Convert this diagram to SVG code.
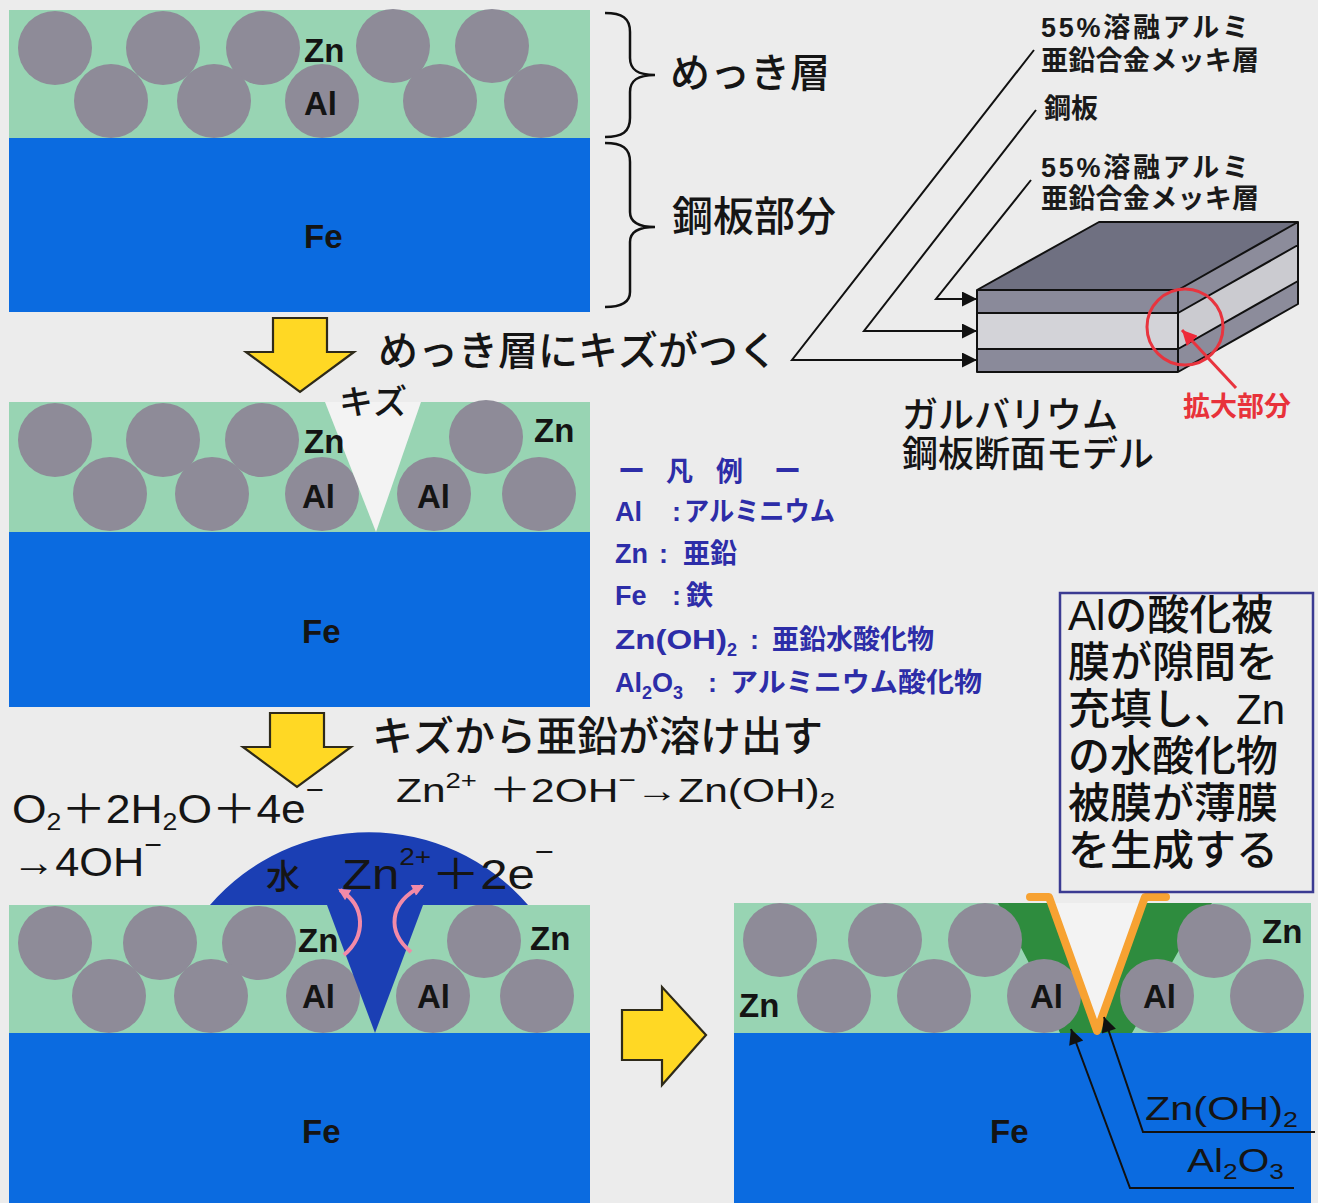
<svg xmlns="http://www.w3.org/2000/svg" width="1318" height="1203" viewBox="0 0 1318 1203">
<defs>
<style>
.coat{fill:#98d4b3}
.steel{fill:#0b6be0}
.grain{fill:#8e8b98}
.gap{fill:#f3f3f3}
.el{font-family:"Liberation Sans",Arial,sans-serif;font-weight:bold;font-size:33px;fill:#141414}
.jp{font-family:"Liberation Sans","Noto Sans CJK JP",sans-serif;fill:#151515;font-weight:500}
.eq{font-family:"Liberation Sans","Noto Sans CJK JP",sans-serif;fill:#151515}
.legend{font-family:"Liberation Sans","Noto Sans CJK JP",sans-serif;font-size:27px;font-weight:bold;fill:#2d2da8}
.note{font-family:"Liberation Sans","Noto Sans CJK JP",sans-serif;font-size:42px;font-weight:500;fill:#111}
.tag{font-family:"Liberation Sans","Noto Sans CJK JP",sans-serif;font-size:27px;font-weight:bold;fill:#1a1a1a}
.lead{fill:none;stroke:#111;stroke-width:2}
.yel{fill:#ffd824;stroke:#2e2a1a;stroke-width:2.2}
.brace{fill:none;stroke:#111;stroke-width:2.5}
.edge{fill:none;stroke:#111;stroke-width:2;stroke-linejoin:round}
.swirl{fill:none;stroke:#f28aa8;stroke-width:4}
</style>
<marker id="tri" viewBox="0 0 10 10" refX="10" refY="5" markerWidth="18" markerHeight="15" markerUnits="userSpaceOnUse" orient="auto">
<path d="M0,0 L10,5 L0,10 Z" fill="#111"/>
</marker>
<marker id="triRed" viewBox="0 0 10 10" refX="10" refY="5" markerWidth="18" markerHeight="15" markerUnits="userSpaceOnUse" orient="auto">
<path d="M0,0 L10,5 L0,10 Z" fill="#ee2a3a"/>
</marker>
<marker id="triPink" viewBox="0 0 10 10" refX="8" refY="5" markerWidth="13" markerHeight="12" markerUnits="userSpaceOnUse" orient="auto">
<path d="M0,0 L10,5 L0,10 Z" fill="#f28aa8"/>
</marker>
<polygon id="down" points="-27,0 27,0 27,34 54,34 0,74 -54,34 -27,34"/>
</defs>

<rect width="1318" height="1203" fill="#ececec"/>

<!-- intact coating -->
<g id="panel-intact">
<rect class="coat" x="9" y="10" width="581" height="128"/>
<rect class="steel" x="9" y="138" width="581" height="174"/>
<circle class="grain" cx="55" cy="48" r="37"/>
<circle class="grain" cx="163" cy="48" r="37"/>
<circle class="grain" cx="263" cy="48" r="37"/>
<circle class="grain" cx="393" cy="46" r="37"/>
<circle class="grain" cx="492" cy="46" r="37"/>
<circle class="grain" cx="111" cy="101" r="37"/>
<circle class="grain" cx="214" cy="101" r="37"/>
<circle class="grain" cx="322" cy="101" r="37"/>
<circle class="grain" cx="440" cy="101" r="37"/>
<circle class="grain" cx="541" cy="101" r="37"/>
<text class="el" x="304" y="62">Zn</text>
<text class="el" x="304" y="115">Al</text>
<text class="el" x="304" y="248">Fe</text>
</g>

<!-- braces and layer names -->
<g id="layer-names">
<path class="brace" d="M605,13 C622,13 630,18 630,32 L630,58 C630,70 638,75 655,75 C638,75 630,80 630,92 L630,118 C630,132 622,137 605,137"/>
<path class="brace" d="M605,143 C622,143 630,148 630,162 L630,212 C630,222 638,227 655,227 C638,227 630,232 630,242 L630,292 C630,302 622,307 605,307"/>
<text class="jp" x="670" y="87" font-size="40">めっき層</text>
<text class="jp" x="672" y="231" font-size="41">鋼板部分</text>
</g>

<!-- step arrows -->
<g id="step-arrows">
<use href="#down" class="yel" transform="translate(300,318)"/>
<use href="#down" class="yel" transform="translate(297,713)"/>
<polygon class="yel" points="622,1010 662,1010 662,987 706,1035 662,1085 662,1060 622,1060"/>
<text class="jp" x="378" y="365" font-size="40">めっき層にキズがつく</text>
<text class="jp" x="372" y="751" font-size="41">キズから亜鉛が溶け出す</text>
</g>

<!-- scratched coating -->
<g id="panel-scratched">
<rect class="coat" x="9" y="402" width="581" height="130"/>
<rect class="steel" x="9" y="532" width="581" height="175"/>
<circle class="grain" cx="55" cy="440" r="37"/>
<circle class="grain" cx="163" cy="440" r="37"/>
<circle class="grain" cx="262" cy="440" r="37"/>
<circle class="grain" cx="486" cy="437" r="37"/>
<circle class="grain" cx="110" cy="494" r="37"/>
<circle class="grain" cx="212" cy="494" r="37"/>
<circle class="grain" cx="322" cy="494" r="37"/>
<circle class="grain" cx="434" cy="494" r="37"/>
<circle class="grain" cx="539" cy="494" r="37"/>
<polygon class="gap" points="325,402 421,402 376,532"/>
<text class="jp" x="373" y="414" font-size="34" text-anchor="middle">キズ</text>
<text class="el" x="304" y="453">Zn</text>
<text class="el" x="302" y="508">Al</text>
<text class="el" x="417" y="508">Al</text>
<text class="el" x="534" y="442">Zn</text>
<text class="el" x="302" y="643">Fe</text>
</g>

<!-- zinc dissolving into water -->
<g id="panel-dissolving">
<rect class="coat" x="9" y="905" width="581" height="128"/>
<rect class="steel" x="9" y="1033" width="581" height="170"/>
<circle class="grain" cx="55" cy="943" r="37"/>
<circle class="grain" cx="160" cy="943" r="37"/>
<circle class="grain" cx="259" cy="943" r="37"/>
<circle class="grain" cx="484" cy="941" r="37"/>
<circle class="grain" cx="109" cy="996" r="37"/>
<circle class="grain" cx="211" cy="996" r="37"/>
<circle class="grain" cx="323" cy="996" r="37"/>
<circle class="grain" cx="433" cy="996" r="37"/>
<circle class="grain" cx="537" cy="996" r="37"/>
<path d="M210,905 A210,210 0 0 1 528,905 L423,905 L375,1033 L327,905 Z" fill="#1b3fb4"/>
<text class="jp" x="266" y="889" font-size="34" fill="#111">水</text>
<text class="eq" x="342" y="889" font-size="42" textLength="212" lengthAdjust="spacingAndGlyphs">Zn<tspan dy="-24" font-size="24">2+</tspan><tspan dy="24">＋2e</tspan><tspan dy="-28" font-size="28">−</tspan></text>
<text class="el" x="298" y="952">Zn</text>
<text class="el" x="530" y="950">Zn</text>
<text class="el" x="302" y="1008">Al</text>
<text class="el" x="417" y="1008">Al</text>
<text class="el" x="302" y="1143">Fe</text>
</g>

<!-- reactions -->
<g id="reactions">
<text class="eq" x="12" y="823" font-size="40" textLength="312" lengthAdjust="spacingAndGlyphs">O<tspan dy="7" font-size="24">2</tspan><tspan dy="-7">＋2H</tspan><tspan dy="7" font-size="24">2</tspan><tspan dy="-7">O＋4e</tspan><tspan dy="-24" font-size="28">−</tspan></text>
<text class="eq" x="12" y="876" font-size="40" textLength="150" lengthAdjust="spacingAndGlyphs">→4OH<tspan dy="-22" font-size="28">−</tspan></text>
<text class="eq" x="396" y="802" font-size="34" textLength="439" lengthAdjust="spacingAndGlyphs">Zn<tspan dy="-14" font-size="22">2+</tspan><tspan dy="14"> ＋2OH</tspan><tspan dy="-14" font-size="24">−</tspan><tspan dy="14">→Zn(OH)</tspan><tspan dy="6" font-size="22">2</tspan></text>
</g>

<!-- sealed scratch -->
<g id="panel-sealed">
<rect class="coat" x="734" y="903" width="577" height="130"/>
<rect class="steel" x="734" y="1033" width="577" height="170"/>
<polygon points="998,903 1049,903 1097,1033 1060,1033 1030,965" fill="#2e8c3e"/>
<polygon points="1145,903 1212,903 1182,945 1132,1033 1097,1033" fill="#2e8c3e"/>
<circle class="grain" cx="780" cy="940" r="37"/>
<circle class="grain" cx="885" cy="940" r="37"/>
<circle class="grain" cx="985" cy="940" r="37"/>
<circle class="grain" cx="1214" cy="941" r="37"/>
<circle class="grain" cx="834" cy="996" r="37"/>
<circle class="grain" cx="934" cy="996" r="37"/>
<circle class="grain" cx="1044" cy="996" r="37"/>
<circle class="grain" cx="1157" cy="996" r="37"/>
<circle class="grain" cx="1267" cy="996" r="37"/>
<polygon class="gap" points="1049,903 1145,903 1097,1030"/>
<path d="M1030,897 L1049,897 L1097,1031 L1145,897 L1166,897" fill="none" stroke="#f7a232" stroke-width="8" stroke-linecap="round" stroke-linejoin="round"/>
<text class="el" x="739" y="1017">Zn</text>
<text class="el" x="1262" y="943">Zn</text>
<text class="el" x="1030" y="1008">Al</text>
<text class="el" x="1143" y="1008">Al</text>
<text class="el" x="990" y="1143">Fe</text>
<text class="eq" x="1145" y="1120" font-size="34" textLength="153" lengthAdjust="spacingAndGlyphs">Zn(OH)<tspan dy="7" font-size="22">2</tspan></text>
<text class="eq" x="1187" y="1172" font-size="34" textLength="97" lengthAdjust="spacingAndGlyphs">Al<tspan dy="7" font-size="22">2</tspan><tspan dy="-7">O</tspan><tspan dy="7" font-size="22">3</tspan></text>
</g>

<!-- note box -->
<g id="note">
<rect x="1060" y="593" width="253" height="299" fill="none" stroke="#3b3b92" stroke-width="2.5"/>
<text class="note" x="1068" y="630">Alの酸化被</text>
<text class="note" x="1068" y="677">膜が隙間を</text>
<text class="note" x="1068" y="724">充填し、Zn</text>
<text class="note" x="1068" y="771">の水酸化物</text>
<text class="note" x="1068" y="818">被膜が薄膜</text>
<text class="note" x="1068" y="865">を生成する</text>
</g>

<!-- legend -->
<g id="legend">
<text class="legend" y="481"><tspan x="618">ー</tspan><tspan x="666">凡</tspan><tspan x="716">例</tspan><tspan x="774">ー</tspan></text>
<text class="legend" y="521"><tspan x="615">Al</tspan><tspan x="672">:</tspan><tspan x="684" textLength="151" lengthAdjust="spacingAndGlyphs">アルミニウム</tspan></text>
<text class="legend" y="563"><tspan x="615">Zn</tspan><tspan x="659">:</tspan><tspan x="683">亜鉛</tspan></text>
<text class="legend" y="605"><tspan x="615">Fe</tspan><tspan x="672">:</tspan><tspan x="686">鉄</tspan></text>
<text class="legend" y="649"><tspan x="615" textLength="112" lengthAdjust="spacingAndGlyphs">Zn(OH)</tspan><tspan dy="7" font-size="18">2</tspan><tspan x="750" dy="-7">:</tspan><tspan x="772">亜鉛水酸化物</tspan></text>
<text class="legend" y="692"><tspan x="615">Al</tspan><tspan dy="7" font-size="18">2</tspan><tspan dy="-7">O</tspan><tspan dy="7" font-size="18">3</tspan><tspan x="708" dy="-7">:</tspan><tspan x="730" textLength="252" lengthAdjust="spacingAndGlyphs">アルミニウム酸化物</tspan></text>
</g>

<!-- galvalume sheet model -->
<g id="model-3d">
<polygon points="977,290 1099,222 1298,222 1178,290" fill="#6f7081"/>
<rect x="977" y="290" width="201" height="23" fill="#8a8a9a"/>
<rect x="977" y="313" width="201" height="36" fill="#d3d3d8"/>
<rect x="977" y="349" width="201" height="23" fill="#8a8a9a"/>
<polygon points="1178,290 1298,222 1298,245 1178,313" fill="#8c8c9b"/>
<polygon points="1178,313 1298,245 1298,281 1178,349" fill="#cbcbd0"/>
<polygon points="1178,349 1298,281 1298,304 1178,372" fill="#8c8c9b"/>
<path class="edge" d="M977,290 L1099,222 L1298,222 L1298,304 L1178,372 L977,372 Z M977,290 L1178,290 L1298,222 M1178,290 L1178,372 M977,313 L1178,313 L1298,245 M977,349 L1178,349 L1298,281"/>
<circle cx="1185" cy="327" r="38" fill="none" stroke="#e8343e" stroke-width="3"/>
<text class="tag" x="1041" y="37" textLength="208" lengthAdjust="spacing">55%溶融アルミ</text>
<text class="tag" x="1041" y="70" textLength="218" lengthAdjust="spacing">亜鉛合金メッキ層</text>
<text class="tag" x="1044" y="118">鋼板</text>
<text class="tag" x="1041" y="177" textLength="208" lengthAdjust="spacing">55%溶融アルミ</text>
<text class="tag" x="1041" y="208" textLength="218" lengthAdjust="spacing">亜鉛合金メッキ層</text>
<text class="jp" x="902" y="428" font-size="36">ガルバリウム</text>
<text class="jp" x="902" y="467" font-size="36">鋼板断面モデル</text>
<text class="tag" x="1183" y="416" font-size="28" style="fill:#e8323a">拡大部分</text>
</g>

<!-- leader lines and arrows -->
<g id="connectors">
<path class="lead" d="M1034,50 L792,360 L977,360" marker-end="url(#tri)"/>
<path class="lead" d="M1036,110 L864,331 L977,331" marker-end="url(#tri)"/>
<path class="lead" d="M1031,180 L936,299 L977,299" marker-end="url(#tri)"/>
<path d="M1236,388 L1182,330" fill="none" stroke="#e8343e" stroke-width="3" marker-end="url(#triRed)"/>
<path class="lead" d="M1315,1132 L1143,1132 L1104,1017" marker-end="url(#tri)"/>
<path class="lead" d="M1294,1188 L1130,1188 L1071,1029" marker-end="url(#tri)"/>
<path class="swirl" d="M344,955 C366,936 366,906 340,890" marker-end="url(#triPink)"/>
<path class="swirl" d="M411,952 C387,932 388,903 422,886" marker-end="url(#triPink)"/>
</g>
</svg>
